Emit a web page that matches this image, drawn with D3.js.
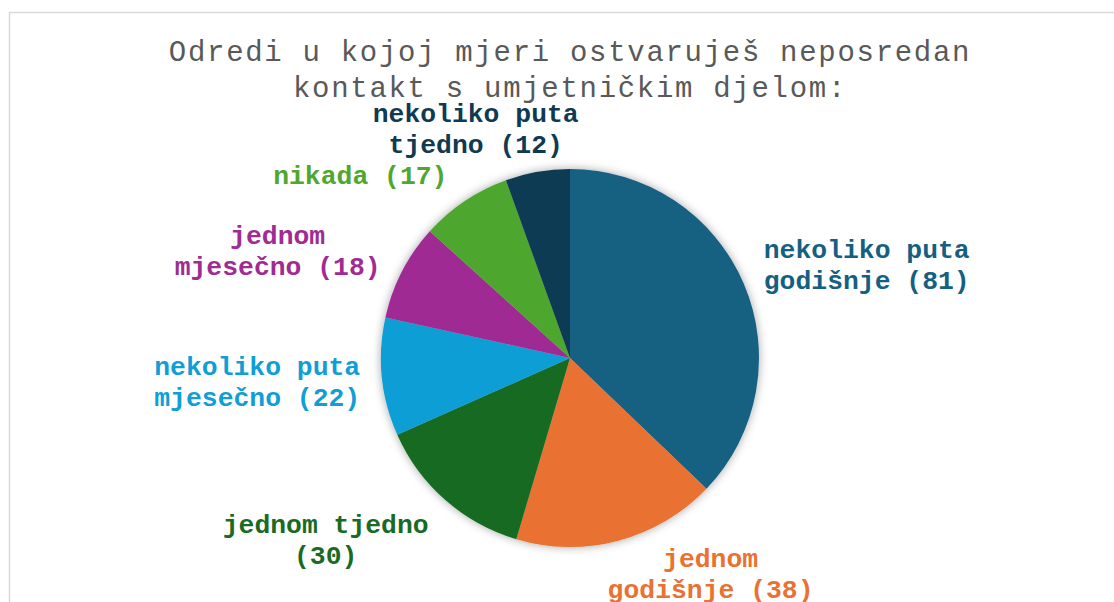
<!DOCTYPE html>
<html>
<head>
<meta charset="utf-8">
<script src="https://cdn.jsdelivr.net/npm/d3@7"></script>
<style>
  body { margin: 0; background: #fff; }
  svg { display: block; }
</style>
</head>
<body>
<svg width="1114" height="602"></svg>
<script>
// Chart data
var titleLines = ['Odredi u kojoj mjeri ostvaruješ neposredan', 'kontakt s umjetničkim djelom:'];
var categories = ['nekoliko puta godišnje', 'jednom godišnje', 'jednom tjedno', 'nekoliko puta mjesečno', 'jednom mjesečno', 'nikada', 'nekoliko puta tjedno'];
var values = [81, 38, 30, 22, 18, 17, 12];
var labelLines = [
    ['nekoliko puta', 'godišnje (81)'],
    ['jednom', 'godišnje (38)'],
    ['jednom tjedno', '(30)'],
    ['nekoliko puta', 'mjesečno (22)'],
    ['jednom', 'mjesečno (18)'],
    ['nikada (17)'],
    ['nekoliko puta', 'tjedno (12)']
];
var colors = ['#156082', '#E97132', '#196B24', '#0F9ED5', '#A02B93', '#4EA72E', '#0F3A52'];

// label nudges (layout only) from the outer label ring
var labelNudge = [[76, 1], [79, -16], [-86, 1], [-74, -1], [-79, 2], [-76, 16], [-53, 7]];

var svg = d3.select('svg');
var cx = 570, cy = 358, radius = 189;
var labelRadius = 240;
var lineH = 31;

// frame
svg.append('rect')
    .attr('x', 9.5).attr('y', 12.5)
    .attr('width', 1200).attr('height', 700)
    .attr('fill', 'none')
    .attr('stroke', '#d9d9d9')
    .attr('stroke-width', 1.5);

// soft shadow for the pie
var defs = svg.append('defs');
var filter = defs.append('filter').attr('id', 'shadow')
    .attr('x', '-20%').attr('y', '-20%').attr('width', '140%').attr('height', '140%');
filter.append('feDropShadow')
    .attr('dx', 0).attr('dy', 0)
    .attr('stdDeviation', 5)
    .attr('flood-color', '#000')
    .attr('flood-opacity', 0.35);

// title
svg.append('text')
    .attr('x', 570)
    .attr('text-anchor', 'middle')
    .style('font-family', '"Liberation Mono", "DejaVu Sans Mono", monospace')
    .style('font-size', '29px')
    .style('letter-spacing', '1.7px')
    .attr('fill', '#595959')
    .selectAll('tspan')
    .data(titleLines)
    .enter().append('tspan')
    .attr('x', 570)
    .attr('y', function(d, i){ return 61 + i * 36; })
    .text(function(d){ return d; });

var pie = d3.pie().sort(null).value(function(d){ return d; });
var arc = d3.arc().innerRadius(0).outerRadius(radius);
var arcs = pie(values);

var chartG = svg.append('g')
    .attr('transform', 'translate(' + [cx, cy] + ')');

chartG.append('g')
    .attr('filter', 'url(#shadow)')
    .selectAll('path')
    .data(arcs)
    .enter().append('path')
    .attr('d', arc)
    .attr('fill', function(d, i){ return colors[i]; });

// labels
var labelG = chartG.selectAll('.label')
    .data(arcs)
    .enter().append('text')
    .attr('class', 'label')
    .attr('text-anchor', 'middle')
    .style('font-family', '"Liberation Mono", "DejaVu Sans Mono", monospace')
    .style('font-size', '26.4px')
    .style('font-weight', 'bold')
    .attr('fill', function(d, i){ return colors[i]; })
    .attr('transform', function(d, i){
        var a = (d.startAngle + d.endAngle) / 2;
        var x = Math.sin(a) * labelRadius + labelNudge[i][0];
        var y = -Math.cos(a) * labelRadius + labelNudge[i][1];
        return 'translate(' + [x, y] + ')';
    });

labelG.each(function(d, i){
    var lines = labelLines[i];
    var top = -(lines.length - 1) * lineH / 2 + 9;
    d3.select(this).selectAll('tspan')
        .data(lines)
        .enter().append('tspan')
        .attr('x', 0)
        .attr('y', function(t, j){ return top + j * lineH; })
        .text(function(t){ return t; });
});
</script>
</body>
</html>
